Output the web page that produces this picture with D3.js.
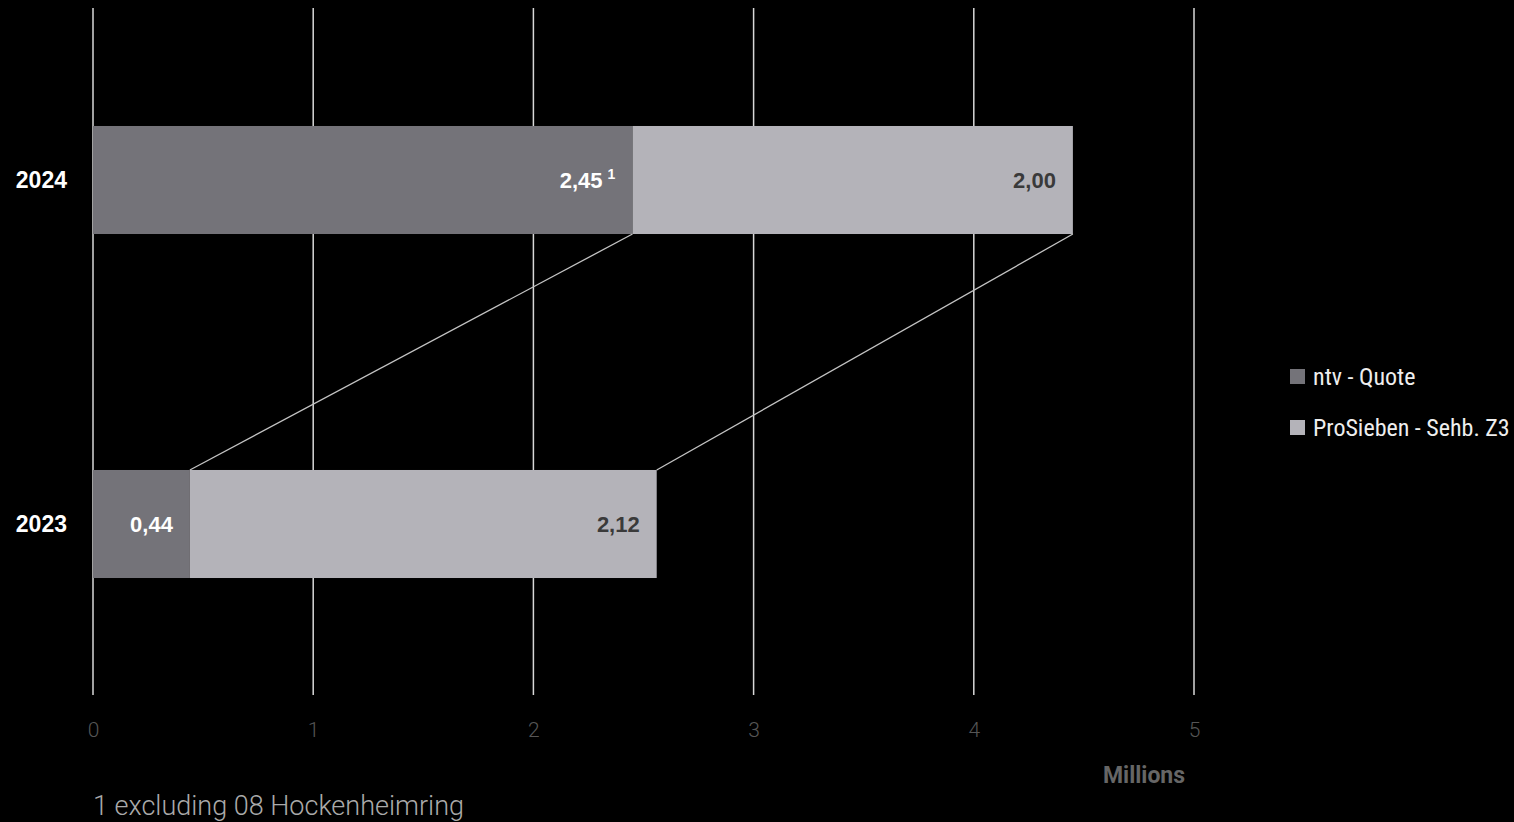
<!DOCTYPE html>
<html><head><meta charset="utf-8">
<script src="https://cdn.jsdelivr.net/npm/d3@7"></script>
<style>html,body{margin:0;padding:0;background:#000;}svg{display:block;}</style>
</head><body>
<svg id="chart" width="1514" height="822"></svg>
<script>
const years = ["2024", "2023"];
const seriesNames = ["ntv - Quote", "ProSieben - Sehb. Z3"];
const ntvValues = [2.45, 0.44];
const proSiebenValues = [2.00, 2.12];
const ntvLabels = ["2,45", "0,44"];
const proSiebenLabels = ["2,00", "2,12"];
const ntvFootnotes = ["1", ""];
const xTicks = [0, 1, 2, 3, 4, 5];
const axisTitle = "Millions";
const footnote = "1 excluding 08 Hockenheimring";
const colors = ["#747379", "#b4b3b9"];

const svg = d3.select("#chart");
const x = d3.scaleLinear().domain([0, 5]).range([93, 1194]);
const y = d3.scaleBand().domain(years).range([8, 696]).paddingInner(0.686).paddingOuter(0.343);

const rows = years.map((yr, i) => ({year: yr, a: ntvValues[i], b: proSiebenValues[i], la: ntvLabels[i], lb: proSiebenLabels[i], fn: ntvFootnotes[i]}));

// gridlines
svg.append("g").selectAll("line").data(xTicks).join("line")
  .attr("x1", d => x(d)).attr("x2", d => x(d))
  .attr("y1", 8).attr("y2", 695)
  .attr("stroke", "#d8d8d8").attr("stroke-width", 1.5);

// bars
const g = svg.append("g");
rows.forEach(r => {
  g.append("rect").attr("x", x(0)).attr("y", y(r.year)).attr("width", x(r.a) - x(0)).attr("height", y.bandwidth()).attr("fill", colors[0]);
  g.append("rect").attr("x", x(r.a)).attr("y", y(r.year)).attr("width", x(r.a + r.b) - x(r.a)).attr("height", y.bandwidth()).attr("fill", colors[1]);
});

// connector lines
const rowTop = rows[0], rowBot = rows[1];
[[rowTop.a, rowBot.a], [rowTop.a + rowTop.b, rowBot.a + rowBot.b]].forEach(([v1, v2]) => {
  svg.append("line")
    .attr("x1", x(v1)).attr("y1", y(rowTop.year) + y.bandwidth())
    .attr("x2", x(v2)).attr("y2", y(rowBot.year))
    .attr("stroke", "#c4c4c4").attr("stroke-width", 1.3);
});

const boldFont = "Liberation Sans, Arial, sans-serif";
// bar labels
rows.forEach(r => {
  const cy = y(r.year) + y.bandwidth() / 2;
  svg.append("text").attr("x", x(r.a) - (r.fn ? 30 : 17)).attr("y", cy).attr("dy", "0.36em")
    .attr("text-anchor", "end").attr("font-family", boldFont).attr("font-weight", "bold")
    .attr("font-size", 22).attr("fill", "#ffffff").text(r.la);
  if (r.fn) {
    svg.append("text").attr("x", x(r.a) - 25).attr("y", cy - 1)
      .attr("font-family", boldFont).attr("font-weight", "bold")
      .attr("font-size", 14).attr("fill", "#ffffff").text(r.fn);
  }
  svg.append("text").attr("x", x(r.a + r.b) - 17).attr("y", cy).attr("dy", "0.36em")
    .attr("text-anchor", "end").attr("font-family", boldFont).attr("font-weight", "bold")
    .attr("font-size", 22).attr("fill", "#3a3a3a").text(r.lb);
});

// year labels
svg.append("g").selectAll("text").data(years).join("text")
  .attr("x", 67).attr("y", d => y(d) + y.bandwidth() / 2).attr("dy", "0.36em")
  .attr("text-anchor", "end").attr("font-family", boldFont).attr("font-weight", "bold")
  .attr("font-size", 23).attr("fill", "#ffffff").text(d => d);

// x axis labels
const ax = svg.append("g").attr("transform", "translate(0,722)")
  .call(d3.axisBottom(x).tickValues(xTicks).tickSize(0).tickPadding(0).tickFormat(d3.format("d")));
ax.select(".domain").remove();
ax.selectAll("text").attr("font-family", "Roboto, sans-serif").attr("font-weight", 300).attr("font-size", 21).attr("fill", "#555");

svg.append("text").attr("x", 1144).attr("y", 783).attr("text-anchor", "middle")
  .attr("font-family", "Roboto, sans-serif").attr("font-weight", "bold").attr("font-size", 23).attr("fill", "#666").text(axisTitle);

svg.append("text").attr("x", 93).attr("y", 815)
  .attr("font-family", "Roboto, sans-serif").attr("font-weight", 300).attr("font-size", 27).attr("fill", "#aaa").text(footnote);

// legend
const lg = svg.append("g").selectAll("g").data(seriesNames).join("g")
  .attr("transform", (d, i) => `translate(1290,${369 + i * 51})`);
lg.append("rect").attr("width", 15).attr("height", 15).attr("fill", (d, i) => colors[i]);
lg.append("text").attr("x", 23).attr("y", 7).attr("dy", "0.36em")
  .attr("font-family", "Roboto Condensed, Liberation Sans Narrow, Roboto, sans-serif").attr("font-size", 24).attr("fill", "#eee").text(d => d);
</script>
</body></html>
